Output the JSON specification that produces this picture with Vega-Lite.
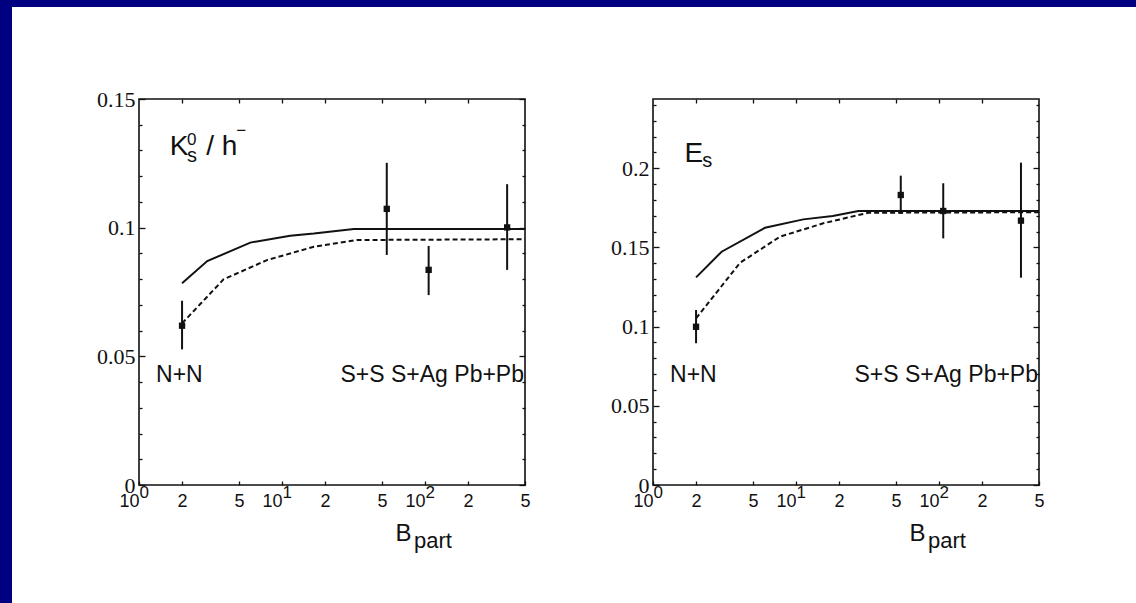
{
  "$schema": "https://vega.github.io/schema/vega-lite/v6.json",
  "background": "white",
  "padding": 0,
  "datasets": {
    "kCurves": [
      {"curve": "A", "npart": 2, "value": 0.0784},
      {"curve": "A", "npart": 3, "value": 0.087},
      {"curve": "A", "npart": 6, "value": 0.0942},
      {"curve": "A", "npart": 11.4, "value": 0.0969},
      {"curve": "A", "npart": 16.7, "value": 0.0977},
      {"curve": "A", "npart": 31.8, "value": 0.0995},
      {"curve": "A", "npart": 500, "value": 0.0995},
      {"curve": "B", "npart": 2, "value": 0.0628},
      {"curve": "B", "npart": 3.9, "value": 0.0799},
      {"curve": "B", "npart": 7.85, "value": 0.0874},
      {"curve": "B", "npart": 16.7, "value": 0.0926},
      {"curve": "B", "npart": 33.5, "value": 0.0952},
      {"curve": "B", "npart": 500, "value": 0.0955}
    ],
    "kPoints": [
      {"system": "N+N", "npart": 2, "value": 0.0619, "lo": 0.0527, "hi": 0.0716},
      {"system": "S+S", "npart": 54, "value": 0.1073, "lo": 0.0894, "hi": 0.1252},
      {"system": "S+Ag", "npart": 106, "value": 0.0836, "lo": 0.0738, "hi": 0.0929},
      {"system": "Pb+Pb", "npart": 375, "value": 0.1001, "lo": 0.0836, "hi": 0.1169}
    ],
    "kText": [
      {"part": "base", "text": "K", "npart": 1.641, "value": 0.1282},
      {"part": "sub", "text": "s", "npart": 2.169, "value": 0.1256},
      {"part": "sup", "text": "0", "npart": 2.169, "value": 0.1321},
      {"part": "base", "text": "/ h", "npart": 2.948, "value": 0.1282},
      {"part": "sup", "text": "−", "npart": 4.78, "value": 0.1355},
      {"part": "start", "text": "N+N", "npart": 1.316, "value": 0.04},
      {"part": "end", "text": "S+S S+Ag Pb+Pb", "npart": 500, "value": 0.04}
    ],
    "eCurves": [
      {"curve": "A", "npart": 2, "value": 0.1311},
      {"curve": "A", "npart": 3.02, "value": 0.1473},
      {"curve": "A", "npart": 6.07, "value": 0.1624},
      {"curve": "A", "npart": 11.25, "value": 0.1677},
      {"curve": "A", "npart": 18.05, "value": 0.1698},
      {"curve": "A", "npart": 27.3, "value": 0.173},
      {"curve": "A", "npart": 500, "value": 0.173},
      {"curve": "B", "npart": 2, "value": 0.1052},
      {"curve": "B", "npart": 4.06, "value": 0.1403},
      {"curve": "B", "npart": 7.73, "value": 0.1568},
      {"curve": "B", "npart": 15.5, "value": 0.1652},
      {"curve": "B", "npart": 32, "value": 0.1719},
      {"curve": "B", "npart": 500, "value": 0.1722}
    ],
    "ePoints": [
      {"system": "N+N", "npart": 2, "value": 0.0999, "lo": 0.0895, "hi": 0.1105},
      {"system": "S+S", "npart": 54, "value": 0.1831, "lo": 0.1711, "hi": 0.1953},
      {"system": "S+Ag", "npart": 107, "value": 0.173, "lo": 0.1557, "hi": 0.1905},
      {"system": "Pb+Pb", "npart": 374, "value": 0.1669, "lo": 0.1309, "hi": 0.2035}
    ],
    "eText": [
      {"part": "base", "text": "E", "npart": 1.661, "value": 0.2041},
      {"part": "sub", "text": "s", "npart": 2.213, "value": 0.2008},
      {"part": "start", "text": "N+N", "npart": 1.316, "value": 0.065},
      {"part": "end", "text": "S+S S+Ag Pb+Pb", "npart": 500, "value": 0.065}
    ]
  },
  "concat": [
    {"width": 12, "height": 7, "view": {"fill": "#000080", "stroke": null}, "data": {"values": []}, "mark": "point"},
    {"width": 127, "height": 7, "view": {"fill": "#000080", "stroke": null}, "data": {"values": []}, "mark": "point"},
    {"width": 386, "height": 7, "view": {"fill": "#000080", "stroke": null}, "data": {"values": []}, "mark": "point"},
    {"width": 128, "height": 7, "view": {"fill": "#000080", "stroke": null}, "data": {"values": []}, "mark": "point"},
    {"width": 386, "height": 7, "view": {"fill": "#000080", "stroke": null}, "data": {"values": []}, "mark": "point"},
    {"width": 97, "height": 7, "view": {"fill": "#000080", "stroke": null}, "data": {"values": []}, "mark": "point"},

    {"width": 12, "height": 92, "view": {"fill": "#000080", "stroke": null}, "data": {"values": []}, "mark": "point"},
    {"width": 1, "height": 1, "data": {"values": []}, "mark": "point"},
    {"width": 1, "height": 1, "data": {"values": []}, "mark": "point"},
    {"width": 1, "height": 1, "data": {"values": []}, "mark": "point"},
    {"width": 1, "height": 1, "data": {"values": []}, "mark": "point"},
    {"width": 1, "height": 1, "data": {"values": []}, "mark": "point"},

    {"width": 12, "height": 504, "view": {"fill": "#000080", "stroke": null}, "data": {"values": []}, "mark": "point"},
    {"width": 1, "height": 1, "data": {"values": []}, "mark": "point"},
    {
      "width": 386,
      "height": 386,
      "view": {"stroke": "#111", "strokeWidth": 1.6},
      "resolve": {"axis": {"x": "independent", "y": "independent"}},
      "layer": [
        {
          "data": {"name": "kCurves"},
          "transform": [{"filter": "datum.curve == 'A'"}],
          "mark": {"type": "line", "color": "#111", "strokeWidth": 2},
          "encoding": {
            "x": {"field": "npart", "type": "quantitative", "scale": {"type": "log", "domain": [1, 500], "nice": false},
              "axis": {"orient": "bottom", "values": [1, 2, 5, 10, 20, 50, 100, 200, 500], "tickSize": -4,
                "labelExpr": "indexof([1, 10, 100], datum.value) >= 0 ? '10' : substring('' + datum.value, 0, 1)",
                "labelAlign": {"condition": {"test": "indexof([1, 10, 100], datum.value) >= 0", "value": "right"}, "value": "center"},
                "labelBaseline": "alphabetic", "labelPadding": 25, "labelFontSize": 18,
                "title": "B", "titleFontSize": 24, "titleX": 256, "titleY": 55, "titleAlign": "left", "titleBaseline": "alphabetic"}},
            "y": {"field": "value", "type": "quantitative", "scale": {"domain": [0, 0.15], "nice": false},
              "axis": {"orient": "left", "values": [0, 0.05, 0.1, 0.15], "tickSize": -6, "format": ".2~f",
                "labelFont": "Liberation Serif", "labelFontSize": 22, "labelPadding": 10, "labelBaseline": "middle", "title": null}}
          }
        },
        {
          "data": {"name": "kCurves"},
          "transform": [{"filter": "datum.curve == 'B'"}],
          "mark": {"type": "line", "color": "#111", "strokeWidth": 2, "strokeDash": [5, 3]},
          "encoding": {
            "x": {"field": "npart", "type": "quantitative", "scale": {"type": "log", "domain": [1, 500], "nice": false},
              "axis": {"orient": "top", "values": [2, 5, 10, 20, 50, 100, 200], "tickSize": -4, "labels": false, "title": null}},
            "y": {"field": "value", "type": "quantitative",
              "axis": {"orient": "left", "values": [0.01, 0.02, 0.03, 0.04, 0.06, 0.07, 0.08, 0.09, 0.11, 0.12, 0.13, 0.14], "tickSize": -3, "labels": false, "title": null}}
          }
        },
        {
          "data": {"name": "kPoints"},
          "mark": {"type": "rule", "color": "#111", "strokeWidth": 2},
          "encoding": {
            "x": {"field": "npart", "type": "quantitative",
              "axis": {"orient": "bottom", "values": [1, 10, 100], "ticks": false,
                "labelExpr": "'' + round(log(datum.value) / LN10)", "labelAlign": "left", "labelBaseline": "alphabetic",
                "labelPadding": 12, "labelFontSize": 17,
                "title": "part", "titleFontSize": 22, "titleX": 274.5, "titleY": 62, "titleAlign": "left", "titleBaseline": "alphabetic"}},
            "y": {"field": "lo", "type": "quantitative",
              "axis": {"orient": "right", "values": [0, 0.05, 0.1, 0.15], "tickSize": -6, "labels": false, "title": null}},
            "y2": {"field": "hi"}
          }
        },
        {
          "data": {"name": "kPoints"},
          "mark": {"type": "square", "size": 40, "color": "#111", "opacity": 1},
          "encoding": {
            "x": {"field": "npart", "type": "quantitative", "axis": null},
            "y": {"field": "value", "type": "quantitative",
              "axis": {"orient": "right", "values": [0.01, 0.02, 0.03, 0.04, 0.06, 0.07, 0.08, 0.09, 0.11, 0.12, 0.13, 0.14], "tickSize": -3, "labels": false, "title": null}}
          }
        },
        {
          "data": {"name": "kText"},
          "transform": [{"filter": "datum.part == 'base'"}],
          "mark": {"type": "text", "align": "left", "baseline": "alphabetic", "font": "Liberation Sans", "fontSize": 28, "color": "#111"},
          "encoding": {"x": {"field": "npart", "type": "quantitative", "axis": null}, "y": {"field": "value", "type": "quantitative", "axis": null}, "text": {"field": "text"}}
        },
        {
          "data": {"name": "kText"},
          "transform": [{"filter": "datum.part == 'sub'"}],
          "mark": {"type": "text", "align": "left", "baseline": "alphabetic", "font": "Liberation Sans", "fontSize": 20, "color": "#111"},
          "encoding": {"x": {"field": "npart", "type": "quantitative", "axis": null}, "y": {"field": "value", "type": "quantitative", "axis": null}, "text": {"field": "text"}}
        },
        {
          "data": {"name": "kText"},
          "transform": [{"filter": "datum.part == 'sup'"}],
          "mark": {"type": "text", "align": "left", "baseline": "alphabetic", "font": "Liberation Sans", "fontSize": 17, "color": "#111"},
          "encoding": {"x": {"field": "npart", "type": "quantitative", "axis": null}, "y": {"field": "value", "type": "quantitative", "axis": null}, "text": {"field": "text"}}
        },
        {
          "data": {"name": "kText"},
          "transform": [{"filter": "datum.part == 'start'"}],
          "mark": {"type": "text", "align": "left", "baseline": "alphabetic", "font": "Liberation Sans", "fontSize": 23, "color": "#111"},
          "encoding": {"x": {"field": "npart", "type": "quantitative", "axis": null}, "y": {"field": "value", "type": "quantitative", "axis": null}, "text": {"field": "text"}}
        },
        {
          "data": {"name": "kText"},
          "transform": [{"filter": "datum.part == 'end'"}],
          "mark": {"type": "text", "align": "right", "baseline": "alphabetic", "dx": -1, "font": "Liberation Sans", "fontSize": 23, "color": "#111"},
          "encoding": {"x": {"field": "npart", "type": "quantitative", "axis": null}, "y": {"field": "value", "type": "quantitative", "axis": null}, "text": {"field": "text"}}
        }
      ]
    },
    {"width": 1, "height": 1, "data": {"values": []}, "mark": "point"},
    {
      "width": 386,
      "height": 386,
      "view": {"stroke": "#111", "strokeWidth": 1.6},
      "resolve": {"axis": {"x": "independent", "y": "independent"}},
      "layer": [
        {
          "data": {"name": "eCurves"},
          "transform": [{"filter": "datum.curve == 'A'"}],
          "mark": {"type": "line", "color": "#111", "strokeWidth": 2},
          "encoding": {
            "x": {"field": "npart", "type": "quantitative", "scale": {"type": "log", "domain": [1, 500], "nice": false},
              "axis": {"orient": "bottom", "values": [1, 2, 5, 10, 20, 50, 100, 200, 500], "tickSize": -4,
                "labelExpr": "indexof([1, 10, 100], datum.value) >= 0 ? '10' : substring('' + datum.value, 0, 1)",
                "labelAlign": {"condition": {"test": "indexof([1, 10, 100], datum.value) >= 0", "value": "right"}, "value": "center"},
                "labelBaseline": "alphabetic", "labelPadding": 25, "labelFontSize": 18,
                "title": "B", "titleFontSize": 24, "titleX": 256, "titleY": 55, "titleAlign": "left", "titleBaseline": "alphabetic"}},
            "y": {"field": "value", "type": "quantitative", "scale": {"domain": [0, 0.2437], "nice": false},
              "axis": {"orient": "left", "values": [0, 0.05, 0.1, 0.15, 0.2], "tickSize": -6, "format": ".2~f",
                "labelFont": "Liberation Serif", "labelFontSize": 22, "labelPadding": 10, "labelBaseline": "middle", "title": null}}
          }
        },
        {
          "data": {"name": "eCurves"},
          "transform": [{"filter": "datum.curve == 'B'"}],
          "mark": {"type": "line", "color": "#111", "strokeWidth": 2, "strokeDash": [5, 3]},
          "encoding": {
            "x": {"field": "npart", "type": "quantitative", "scale": {"type": "log", "domain": [1, 500], "nice": false},
              "axis": {"orient": "top", "values": [2, 5, 10, 20, 50, 100, 200], "tickSize": -4, "labels": false, "title": null}},
            "y": {"field": "value", "type": "quantitative",
              "axis": {"orient": "left", "values": [0.01, 0.02, 0.03, 0.04, 0.06, 0.07, 0.08, 0.09, 0.11, 0.12, 0.13, 0.14, 0.16, 0.17, 0.18, 0.19, 0.21, 0.22, 0.23, 0.24], "tickSize": -3, "labels": false, "title": null}}
          }
        },
        {
          "data": {"name": "ePoints"},
          "mark": {"type": "rule", "color": "#111", "strokeWidth": 2},
          "encoding": {
            "x": {"field": "npart", "type": "quantitative",
              "axis": {"orient": "bottom", "values": [1, 10, 100], "ticks": false,
                "labelExpr": "'' + round(log(datum.value) / LN10)", "labelAlign": "left", "labelBaseline": "alphabetic",
                "labelPadding": 12, "labelFontSize": 17,
                "title": "part", "titleFontSize": 22, "titleX": 274.5, "titleY": 62, "titleAlign": "left", "titleBaseline": "alphabetic"}},
            "y": {"field": "lo", "type": "quantitative",
              "axis": {"orient": "right", "values": [0, 0.05, 0.1, 0.15, 0.2], "tickSize": -6, "labels": false, "title": null}},
            "y2": {"field": "hi"}
          }
        },
        {
          "data": {"name": "ePoints"},
          "mark": {"type": "square", "size": 40, "color": "#111", "opacity": 1},
          "encoding": {
            "x": {"field": "npart", "type": "quantitative", "axis": null},
            "y": {"field": "value", "type": "quantitative",
              "axis": {"orient": "right", "values": [0.01, 0.02, 0.03, 0.04, 0.06, 0.07, 0.08, 0.09, 0.11, 0.12, 0.13, 0.14, 0.16, 0.17, 0.18, 0.19, 0.21, 0.22, 0.23, 0.24], "tickSize": -3, "labels": false, "title": null}}
          }
        },
        {
          "data": {"name": "eText"},
          "transform": [{"filter": "datum.part == 'base'"}],
          "mark": {"type": "text", "align": "left", "baseline": "alphabetic", "font": "Liberation Sans", "fontSize": 28, "color": "#111"},
          "encoding": {"x": {"field": "npart", "type": "quantitative", "axis": null}, "y": {"field": "value", "type": "quantitative", "axis": null}, "text": {"field": "text"}}
        },
        {
          "data": {"name": "eText"},
          "transform": [{"filter": "datum.part == 'sub'"}],
          "mark": {"type": "text", "align": "left", "baseline": "alphabetic", "font": "Liberation Sans", "fontSize": 20, "color": "#111"},
          "encoding": {"x": {"field": "npart", "type": "quantitative", "axis": null}, "y": {"field": "value", "type": "quantitative", "axis": null}, "text": {"field": "text"}}
        },
        {
          "data": {"name": "eText"},
          "transform": [{"filter": "datum.part == 'start'"}],
          "mark": {"type": "text", "align": "left", "baseline": "alphabetic", "font": "Liberation Sans", "fontSize": 23, "color": "#111"},
          "encoding": {"x": {"field": "npart", "type": "quantitative", "axis": null}, "y": {"field": "value", "type": "quantitative", "axis": null}, "text": {"field": "text"}}
        },
        {
          "data": {"name": "eText"},
          "transform": [{"filter": "datum.part == 'end'"}],
          "mark": {"type": "text", "align": "right", "baseline": "alphabetic", "dx": -1, "font": "Liberation Sans", "fontSize": 23, "color": "#111"},
          "encoding": {"x": {"field": "npart", "type": "quantitative", "axis": null}, "y": {"field": "value", "type": "quantitative", "axis": null}, "text": {"field": "text"}}
        }
      ]
    }
  ],
  "columns": 6,
  "spacing": 0,
  "bounds": "flush",
  "align": "each",
  "config": {
    "view": {"stroke": null},
    "axis": {
      "domain": false,
      "grid": false,
      "tickColor": "#111",
      "tickWidth": 1.3,
      "labelColor": "#111",
      "labelFont": "Liberation Sans",
      "labelFlush": false,
      "labelOverlap": false,
      "titleFont": "Liberation Sans",
      "titleFontWeight": "normal",
      "titleColor": "#111"
    }
  }
}
